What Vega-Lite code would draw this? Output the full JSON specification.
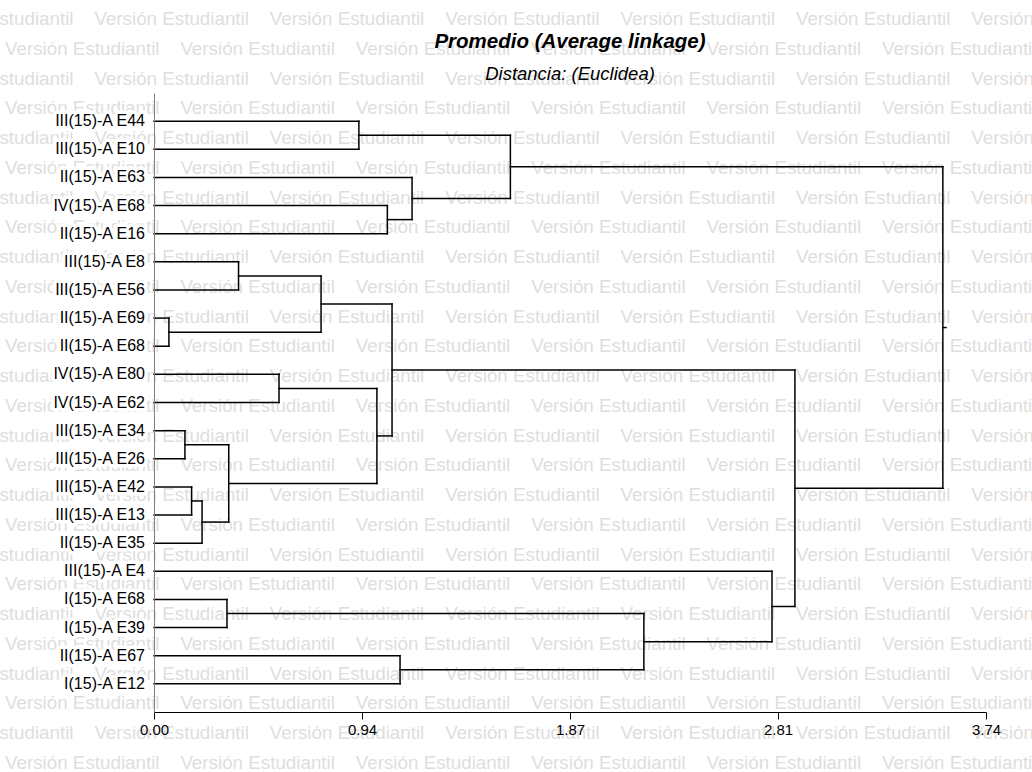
{
  "$schema": "https://vega.github.io/schema/vega-lite/v6.json",
  "width": 832,
  "height": 619,
  "autosize": {"type": "none"},
  "padding": {"left": 154, "top": 93, "right": 46, "bottom": 60},
  "background": "white",
  "config": {"font": "Liberation Sans", "view": {"stroke": null}, "axis": {"grid": false}},
  "title": {
    "text": "Promedio (Average linkage)",
    "subtitle": "Distancia: (Euclidea)",
    "anchor": "middle",
    "frame": "group",
    "font": "Liberation Sans",
    "fontSize": 20.5,
    "fontStyle": "italic",
    "fontWeight": "bold",
    "color": "black",
    "subtitleFont": "Liberation Sans",
    "subtitleFontSize": 18.5,
    "subtitleFontStyle": "italic",
    "subtitleColor": "black",
    "subtitlePadding": 13,
    "offset": -74
  },
  "datasets": {
    "wm": [
      {"row": 0, "shift": -0.5}, {"row": 1, "shift": 0}, {"row": 2, "shift": -0.5}, {"row": 3, "shift": 0},
      {"row": 4, "shift": -0.5}, {"row": 5, "shift": 0}, {"row": 6, "shift": -0.5}, {"row": 7, "shift": 0},
      {"row": 8, "shift": -0.5}, {"row": 9, "shift": 0}, {"row": 10, "shift": -0.5}, {"row": 11, "shift": 0},
      {"row": 12, "shift": -0.5}, {"row": 13, "shift": 0}, {"row": 14, "shift": -0.5}, {"row": 15, "shift": 0},
      {"row": 16, "shift": -0.5}, {"row": 17, "shift": 0}, {"row": 18, "shift": -0.5}, {"row": 19, "shift": 0},
      {"row": 20, "shift": -0.5}, {"row": 21, "shift": 0}, {"row": 22, "shift": -0.5}, {"row": 23, "shift": 0},
      {"row": 24, "shift": -0.5}, {"row": 25, "shift": 0}
    ],
    "leaves": [
      {"pos": 0, "name": "III(15)-A E44"}, {"pos": 1, "name": "III(15)-A E10"}, {"pos": 2, "name": "II(15)-A E63"},
      {"pos": 3, "name": "IV(15)-A E68"}, {"pos": 4, "name": "II(15)-A E16"}, {"pos": 5, "name": "III(15)-A E8"},
      {"pos": 6, "name": "III(15)-A E56"}, {"pos": 7, "name": "II(15)-A E69"}, {"pos": 8, "name": "II(15)-A E68"},
      {"pos": 9, "name": "IV(15)-A E80"}, {"pos": 10, "name": "IV(15)-A E62"}, {"pos": 11, "name": "III(15)-A E34"},
      {"pos": 12, "name": "III(15)-A E26"}, {"pos": 13, "name": "III(15)-A E42"}, {"pos": 14, "name": "III(15)-A E13"},
      {"pos": 15, "name": "II(15)-A E35"}, {"pos": 16, "name": "III(15)-A E4"}, {"pos": 17, "name": "I(15)-A E68"},
      {"pos": 18, "name": "I(15)-A E39"}, {"pos": 19, "name": "II(15)-A E67"}, {"pos": 20, "name": "I(15)-A E12"}
    ],
    "segs": [
      {"from": 0, "to": 0.921, "pos": 0, "pos2": 0},
      {"from": 0, "to": 0.921, "pos": 1, "pos2": 1},
      {"from": 0, "to": 1.160, "pos": 2, "pos2": 2},
      {"from": 0, "to": 1.049, "pos": 3, "pos2": 3},
      {"from": 0, "to": 1.049, "pos": 4, "pos2": 4},
      {"from": 0, "to": 0.380, "pos": 5, "pos2": 5},
      {"from": 0, "to": 0.380, "pos": 6, "pos2": 6},
      {"from": 0, "to": 0.067, "pos": 7, "pos2": 7},
      {"from": 0, "to": 0.067, "pos": 8, "pos2": 8},
      {"from": 0, "to": 0.562, "pos": 9, "pos2": 9},
      {"from": 0, "to": 0.562, "pos": 10, "pos2": 10},
      {"from": 0, "to": 0.139, "pos": 11, "pos2": 11},
      {"from": 0, "to": 0.139, "pos": 12, "pos2": 12},
      {"from": 0, "to": 0.169, "pos": 13, "pos2": 13},
      {"from": 0, "to": 0.169, "pos": 14, "pos2": 14},
      {"from": 0, "to": 0.216, "pos": 15, "pos2": 15},
      {"from": 0, "to": 2.778, "pos": 16, "pos2": 16},
      {"from": 0, "to": 0.328, "pos": 17, "pos2": 17},
      {"from": 0, "to": 0.328, "pos": 18, "pos2": 18},
      {"from": 0, "to": 1.106, "pos": 19, "pos2": 19},
      {"from": 0, "to": 1.106, "pos": 20, "pos2": 20},
      {"from": 0.921, "to": 0.921, "pos": 0, "pos2": 1},
      {"from": 1.049, "to": 1.049, "pos": 3, "pos2": 4},
      {"from": 1.160, "to": 1.160, "pos": 2, "pos2": 3.5},
      {"from": 1.602, "to": 1.602, "pos": 0.5, "pos2": 2.75},
      {"from": 0.380, "to": 0.380, "pos": 5, "pos2": 6},
      {"from": 0.067, "to": 0.067, "pos": 7, "pos2": 8},
      {"from": 0.751, "to": 0.751, "pos": 5.5, "pos2": 7.5},
      {"from": 0.562, "to": 0.562, "pos": 9, "pos2": 10},
      {"from": 0.139, "to": 0.139, "pos": 11, "pos2": 12},
      {"from": 0.169, "to": 0.169, "pos": 13, "pos2": 14},
      {"from": 0.216, "to": 0.216, "pos": 13.5, "pos2": 15},
      {"from": 0.336, "to": 0.336, "pos": 11.5, "pos2": 14.25},
      {"from": 1.002, "to": 1.002, "pos": 9.5, "pos2": 12.875},
      {"from": 1.070, "to": 1.070, "pos": 6.5, "pos2": 11.1875},
      {"from": 0.328, "to": 0.328, "pos": 17, "pos2": 18},
      {"from": 1.106, "to": 1.106, "pos": 19, "pos2": 20},
      {"from": 2.202, "to": 2.202, "pos": 17.5, "pos2": 19.5},
      {"from": 2.778, "to": 2.778, "pos": 16, "pos2": 18.5},
      {"from": 2.881, "to": 2.881, "pos": 8.84375, "pos2": 17.25},
      {"from": 3.546, "to": 3.546, "pos": 1.625, "pos2": 13.046875},
      {"from": 0.921, "to": 1.602, "pos": 0.5, "pos2": 0.5},
      {"from": 1.049, "to": 1.160, "pos": 3.5, "pos2": 3.5},
      {"from": 1.160, "to": 1.602, "pos": 2.75, "pos2": 2.75},
      {"from": 1.602, "to": 3.546, "pos": 1.625, "pos2": 1.625},
      {"from": 0.380, "to": 0.751, "pos": 5.5, "pos2": 5.5},
      {"from": 0.067, "to": 0.751, "pos": 7.5, "pos2": 7.5},
      {"from": 0.751, "to": 1.070, "pos": 6.5, "pos2": 6.5},
      {"from": 0.562, "to": 1.002, "pos": 9.5, "pos2": 9.5},
      {"from": 0.139, "to": 0.336, "pos": 11.5, "pos2": 11.5},
      {"from": 0.169, "to": 0.216, "pos": 13.5, "pos2": 13.5},
      {"from": 0.216, "to": 0.336, "pos": 14.25, "pos2": 14.25},
      {"from": 0.336, "to": 1.002, "pos": 12.875, "pos2": 12.875},
      {"from": 1.002, "to": 1.070, "pos": 11.1875, "pos2": 11.1875},
      {"from": 1.070, "to": 2.881, "pos": 8.84375, "pos2": 8.84375},
      {"from": 0.328, "to": 2.202, "pos": 17.5, "pos2": 17.5},
      {"from": 1.106, "to": 2.202, "pos": 19.5, "pos2": 19.5},
      {"from": 2.202, "to": 2.778, "pos": 18.5, "pos2": 18.5},
      {"from": 2.778, "to": 2.881, "pos": 17.25, "pos2": 17.25},
      {"from": 2.881, "to": 3.546, "pos": 13.046875, "pos2": 13.046875},
      {"from": 3.546, "to": 3.56, "pos": 7.3359375, "pos2": 7.3359375}
    ]
  },
  "layer": [
    {
      "data": {"name": "wm"},
      "mark": {
        "type": "text",
        "align": "left",
        "baseline": "middle",
        "fontSize": 18.8,
        "color": "#dedede",
        "text": "Versión Estudiantil\u00a0\u00a0\u00a0\u00a0Versión Estudiantil\u00a0\u00a0\u00a0\u00a0Versión Estudiantil\u00a0\u00a0\u00a0\u00a0Versión Estudiantil\u00a0\u00a0\u00a0\u00a0Versión Estudiantil\u00a0\u00a0\u00a0\u00a0Versión Estudiantil\u00a0\u00a0\u00a0\u00a0Versión Estudiantil"
      },
      "encoding": {
        "x": {"field": "shift", "type": "quantitative", "scale": {"domain": [0.8663, 5.7035], "nice": false, "zero": false}, "axis": null},
        "y": {"field": "row", "type": "quantitative", "scale": {"domain": [2.4866, 23.2866], "reverse": true, "nice": false, "zero": false}, "axis": null}
      }
    },
    {
      "layer": [
        {
          "data": {"name": "segs"},
          "mark": {"type": "rule", "color": "black", "strokeWidth": 1.5, "strokeCap": "square"},
          "encoding": {
            "x": {
              "field": "from", "type": "quantitative",
              "scale": {"domain": [0, 3.74], "nice": false, "zero": true},
              "axis": {
                "values": [0, 0.935, 1.87, 2.805, 3.74],
                "labelExpr": "format(datum.value + 1e-9, '.2f')",
                "title": null, "grid": false, "zindex": 1,
                "domainColor": "black", "tickColor": "black", "tickSize": 7,
                "labelFontSize": 15, "labelColor": "black", "labelPadding": 3,
                "labelFlush": false, "labelOverlap": false
              }
            },
            "x2": {"field": "to"},
            "y": {
              "field": "pos", "type": "quantitative",
              "scale": {"domain": [-1, 21], "reverse": true, "nice": false, "zero": false},
              "axis": {"title": null, "labels": false, "ticks": false, "grid": false, "domainColor": "#808080", "zindex": 1}
            },
            "y2": {"field": "pos2"}
          }
        },
        {
          "data": {"name": "leaves"},
          "mark": {"type": "text", "align": "right", "baseline": "middle", "dx": -9, "fontSize": 16, "color": "white", "stroke": "white", "strokeWidth": 7, "strokeJoin": "round"},
          "encoding": {
            "x": {"datum": 0, "type": "quantitative"},
            "y": {"field": "pos", "type": "quantitative"},
            "text": {"field": "name"}
          }
        },
        {
          "data": {"name": "leaves"},
          "mark": {"type": "text", "align": "right", "baseline": "middle", "dx": -9, "fontSize": 16, "color": "black"},
          "encoding": {
            "x": {"datum": 0, "type": "quantitative"},
            "y": {"field": "pos", "type": "quantitative"},
            "text": {"field": "name"}
          }
        }
      ]
    }
  ],
  "resolve": {"scale": {"x": "independent", "y": "independent"}}
}
